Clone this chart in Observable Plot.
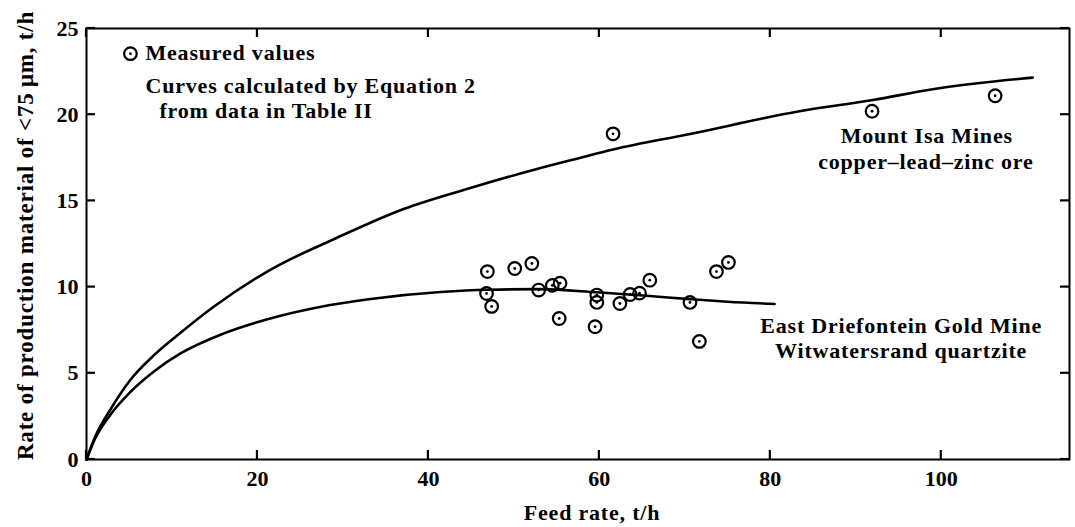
<!DOCTYPE html>
<html>
<head>
<meta charset="utf-8">
<script src="https://cdn.jsdelivr.net/npm/d3@7"></script>
<script src="https://cdn.jsdelivr.net/npm/@observablehq/plot@0.6"></script>
<style>
  html, body { margin: 0; padding: 0; background: white; }
  g[aria-label="text"] text { letter-spacing: 0.8px; }
</style>
</head>
<body>
<div id="chart"></div>
<script>
// Calculated curves (Equation 2)
const isaCurveFeed = [0, 1, 2.8, 5.1, 8, 11, 15, 21.5, 29.3, 37.1, 44.9, 52.7, 57.7, 61.6, 70.6, 83.4, 92, 99, 110.7];
const isaCurveRate = [0, 1.3, 2.9, 4.6, 6.1, 7.35, 8.9, 11.0, 12.86, 14.53, 15.75, 16.85, 17.49, 17.98, 18.88, 20.2, 20.85, 21.48, 22.15];
const edCurveFeed = [0, 1, 2.8, 5.1, 8, 11, 16, 22.7, 27.3, 33, 41.4, 47, 53, 59.7, 65.5, 70.6, 75, 80.5];
const edCurveRate = [0, 1.2, 2.6, 3.9, 5.15, 6.15, 7.3, 8.34, 8.85, 9.3, 9.72, 9.85, 9.88, 9.7, 9.5, 9.3, 9.15, 9.02];

// Measured values
const isaMeasFeed = [61.6, 91.9, 106.3];
const isaMeasRate = [18.89, 20.2, 21.1];
const edMeasFeed = [46.9, 50.1, 52.1, 46.8, 47.4, 52.9, 54.5, 55.4, 55.3, 59.7, 59.7, 59.5, 62.4, 63.6, 64.7, 65.9, 70.6, 71.7, 73.7, 75.1];
const edMeasRate = [10.9, 11.08, 11.37, 9.63, 8.88, 9.83, 10.1, 10.23, 8.18, 9.54, 9.11, 7.7, 9.05, 9.57, 9.65, 10.4, 9.11, 6.85, 10.9, 11.43];

// Axes
const xTicks = [0, 20, 40, 60, 80, 100];
const yTicks = [0, 5, 10, 15, 20, 25];
const xTitle = "Feed rate, t/h";
const yTitle = "Rate of production material of <75\u2009\u03bcm, t/h";

// Annotations
const annText = ["Measured values", "Curves calculated by Equation 2", "from data in Table II",
                 "Mount Isa Mines", "copper\u2013lead\u2013zinc ore",
                 "East Driefontein Gold Mine", "Witwatersrand quartzite"];
const annX = [6.9, 6.9, 8.53, 98.3, 98.2, 95.3, 95.3];
const annY = [23.16, 21.25, 19.8, 18.37, 16.85, 7.31, 5.89];
const annAnchor = ["start", "start", "start", "middle", "middle", "middle", "middle"];
const legendX = [5.14];
const legendY = [23.54];

const curves = [
  ...isaCurveFeed.map((f, i) => ({series: "isa", feed: f, rate: isaCurveRate[i]})),
  ...edCurveFeed.map((f, i) => ({series: "ed", feed: f, rate: edCurveRate[i]}))
];
const measured = [
  ...isaMeasFeed.map((f, i) => ({feed: f, rate: isaMeasRate[i]})),
  ...edMeasFeed.map((f, i) => ({feed: f, rate: edMeasRate[i]})),
  ...legendX.map((f, i) => ({feed: f, rate: legendY[i]}))
];
const ann = annText.map((t, i) => ({text: t, x: annX[i], y: annY[i], anchor: annAnchor[i]}));

const TICK = 9;

const chart = Plot.plot({
  width: 1075,
  height: 527,
  marginLeft: 86,
  marginRight: 6,
  marginTop: 28,
  marginBottom: 68,
  style: {fontFamily: "'Liberation Serif', serif", fontSize: "22px", fontWeight: "bold", color: "black", background: "white"},
  x: {domain: [0, 115], label: null},
  y: {domain: [0, 25], label: null},
  marks: [
    Plot.frame({stroke: "black", strokeWidth: 2}),
    Plot.axisX({anchor: "bottom", ticks: xTicks, tickSize: 0, tickPadding: 11, label: null}),
    Plot.axisY({anchor: "left", ticks: yTicks, tickSize: 0, tickPadding: 8, label: null}),
    Plot.line(curves, {x: "feed", y: "rate", z: "series", curve: "monotone-x", stroke: "black", strokeWidth: 2.6}),
    Plot.dot(measured, {x: "feed", y: "rate", r: 6.3, stroke: "black", strokeWidth: 2.2, fill: "none"}),
    Plot.dot(measured, {x: "feed", y: "rate", r: 1.4, fill: "black"}),
    Plot.text(ann.filter(d => d.anchor === "start"), {x: "x", y: "y", text: "text", textAnchor: "start", lineAnchor: "bottom", fill: "black"}),
    Plot.text(ann.filter(d => d.anchor === "middle"), {x: "x", y: "y", text: "text", textAnchor: "middle", lineAnchor: "bottom", fill: "black"}),
    Plot.text([xTitle], {frameAnchor: "bottom", text: d => d, textAnchor: "middle", lineAnchor: "bottom", dx: 14, dy: 60, fill: "black"}),
    Plot.text([yTitle], {frameAnchor: "left", text: d => d, textAnchor: "middle", rotate: -90, lineAnchor: "bottom", fontSize: 23, dx: -54, dy: -8.5, fill: "black"}),
    // inward ticks on all four sides, drawn from the x / y scales
    (index, scales, values, dimensions) => {
      const {width, height, marginLeft, marginRight, marginTop, marginBottom} = dimensions;
      const g = d3.create("svg:g").attr("stroke", "black").attr("stroke-width", 2.2);
      const yb = height - marginBottom, yt = marginTop, xl = marginLeft, xr = width - marginRight;
      for (const t of xTicks) {
        const px = scales.x(t);
        g.append("line").attr("x1", px).attr("x2", px).attr("y1", yb).attr("y2", yb - TICK);
        g.append("line").attr("x1", px).attr("x2", px).attr("y1", yt).attr("y2", yt + TICK);
      }
      for (const t of yTicks) {
        const py = scales.y(t);
        g.append("line").attr("y1", py).attr("y2", py).attr("x1", xl).attr("x2", xl + TICK);
        g.append("line").attr("y1", py).attr("y2", py).attr("x1", xr).attr("x2", xr - TICK);
      }
      return g.node();
    }
  ]
});
document.getElementById("chart").appendChild(chart);
</script>
</body>
</html>
